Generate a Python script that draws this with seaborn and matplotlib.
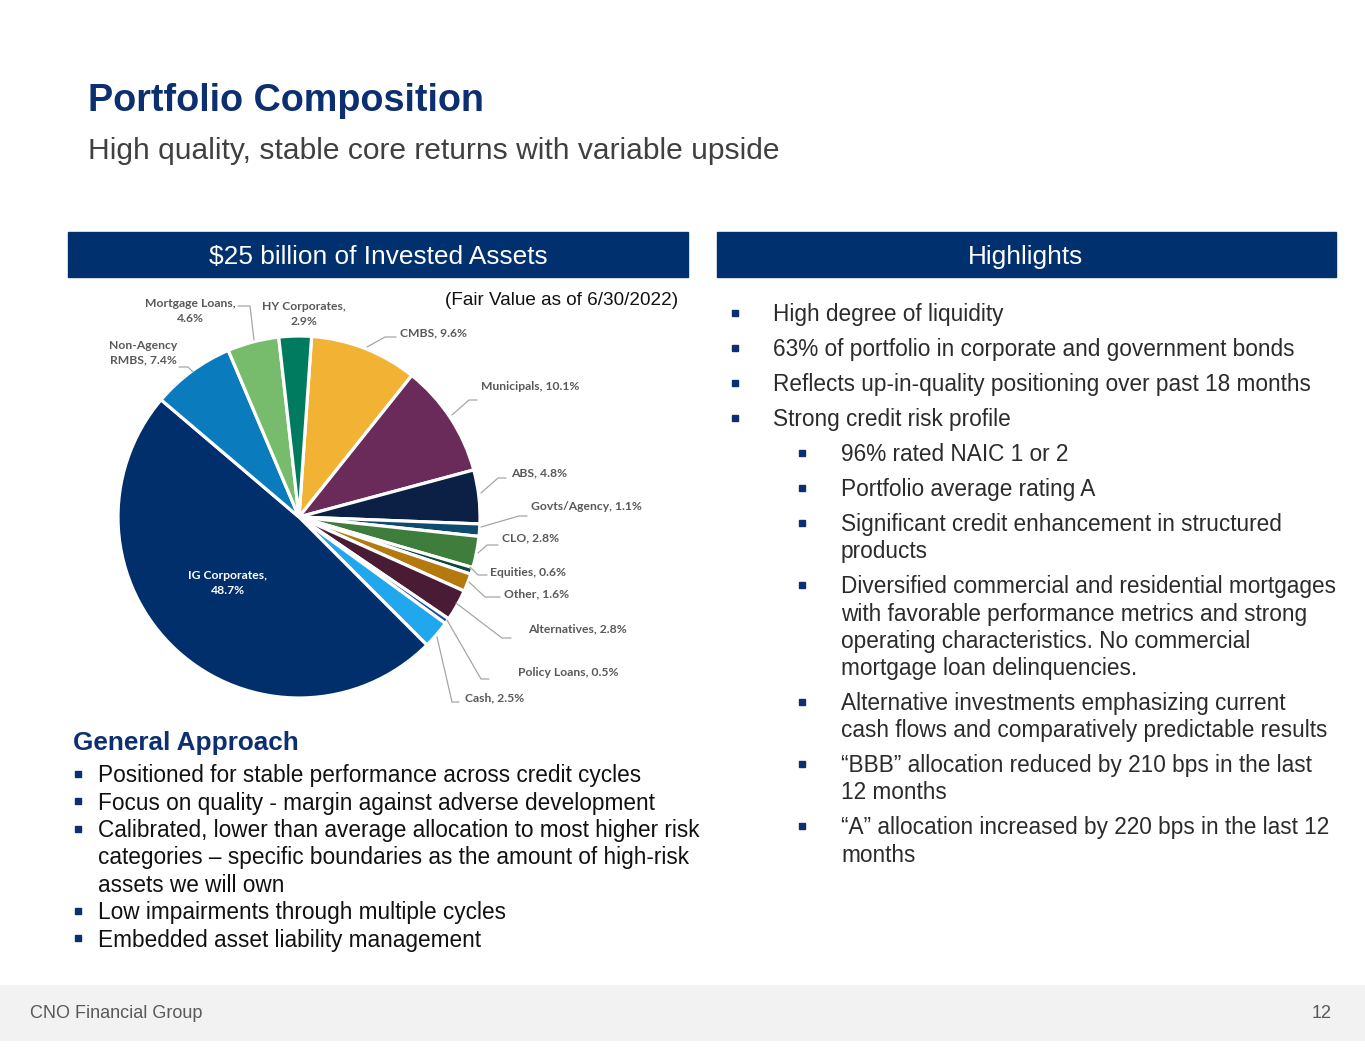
import matplotlib
matplotlib.use("Agg")
import matplotlib.pyplot as plt
from matplotlib.patches import Rectangle
import seaborn as sns

# ---------------- data ----------------
categories = ["CMBS", "Municipals", "ABS", "Govts/Agency", "CLO", "Equities", "Other",
              "Alternatives", "Policy Loans", "Cash", "IG Corporates", "Non-Agency RMBS",
              "Mortgage Loans", "HY Corporates"]
shares = [9.6, 10.1, 4.8, 1.1, 2.8, 0.6, 1.6, 2.8, 0.5, 2.5, 48.7, 7.4, 4.6, 2.9]
slice_colors = ["#F2B233", "#6A2A5A", "#0C1F45", "#0E4B6E", "#3E7D3B", "#0C4A3E", "#B47A10",
                "#4A1B35", "#1F4E9C", "#21A7EE", "#002F6C", "#0A7BBD", "#77BC6C", "#007B5F"]
label_texts = ["CMBS, 9.6%", "Municipals, 10.1%", "ABS, 4.8%", "Govts/Agency, 1.1%",
               "CLO, 2.8%", "Equities, 0.6%", "Other, 1.6%", "Alternatives, 2.8%",
               "Policy Loans, 0.5%", "Cash, 2.5%", "IG Corporates,\n48.7%",
               "Non-Agency\nRMBS, 7.4%", "Mortgage Loans,\n4.6%", "HY Corporates,\n2.9%"]

title = "Portfolio Composition"
subtitle = "High quality, stable core returns with variable upside"
left_header = "$25 billion of Invested Assets"
right_header = "Highlights"
fair_value_note = "(Fair Value as of 6/30/2022)"
highlights = [
    (0, ["High degree of liquidity"]),
    (0, ["63% of portfolio in corporate and government bonds"]),
    (0, ["Reflects up-in-quality positioning over past 18 months"]),
    (0, ["Strong credit risk profile"]),
    (1, ["96% rated NAIC 1 or 2"]),
    (1, ["Portfolio average rating A"]),
    (1, ["Significant credit enhancement in structured", "products"]),
    (1, ["Diversified commercial and residential mortgages",
         "with favorable performance metrics and strong",
         "operating characteristics. No commercial",
         "mortgage loan delinquencies."]),
    (1, ["Alternative investments emphasizing current",
         "cash flows and comparatively predictable results"]),
    (1, ["\u201cBBB\u201d allocation reduced by 210 bps in the last", "12 months"]),
    (1, ["\u201cA\u201d allocation increased by 220 bps in the last 12", "months"]),
]
approach_title = "General Approach"
approach = [
    ["Positioned for stable performance across credit cycles"],
    ["Focus on quality - margin against adverse development"],
    ["Calibrated, lower than average allocation to most higher risk",
     "categories \u2013 specific boundaries as the amount of high-risk",
     "assets we will own"],
    ["Low impairments through multiple cycles"],
    ["Embedded asset liability management"],
]
footer_left = "CNO Financial Group"
footer_right = "12"

# ---------------- style ----------------
sns.set_theme(style="white")
plt.rcParams['font.family'] = ['Liberation Sans', 'DejaVu Sans']
palette = sns.color_palette(slice_colors)

W, H = 1365, 1055
NAVY = "#0B2F70"
BAR = "#00306E"

fig = plt.figure(figsize=(W / 100, H / 100), dpi=100)
ax = fig.add_axes([0, 0, 1, 1])


def Y(y):
    return H - y


def txt(x, yc, s, size, **kw):
    # yc = visual center of capital letters in pixel coords (y downward)
    px = size * 100 / 72
    ax.text(x, Y(yc + 0.36 * px), s, fontsize=size, va='baseline', **kw)


# ---------------- pie ----------------
cx, cy, R = 299, 517, 181
wedges, _ = ax.pie(shares, colors=palette, startangle=86, counterclock=False,
                   center=(cx, Y(cy)), radius=R,
                   wedgeprops=dict(edgecolor='white', linewidth=2.3))
ax.set_xlim(0, W)
ax.set_ylim(0, H)
ax.set_aspect('auto')
ax.axis('off')

# label placement (pixel coords, y downward): label anchor and leader polyline
pie_label_font = dict(family=['Lato', 'DejaVu Sans'], fontweight='bold', color='#595959')
label_pos = {
    "CMBS": (400, 333, 'left'),
    "Municipals": (481, 386, 'left'),
    "ABS": (511, 473, 'left'),
    "Govts/Agency": (531, 507, 'left'),
    "CLO": (502, 538, 'left'),
    "Equities": (490, 572, 'left'),
    "Other": (504, 594, 'left'),
    "Alternatives": (528, 629, 'left'),
    "Policy Loans": (518, 673, 'left'),
    "Cash": (465, 698, 'left'),
    "IG Corporates": (228, 583, 'center'),
    "Non-Agency RMBS": (143, 353, 'center'),
    "Mortgage Loans": (190, 311, 'center'),
    "HY Corporates": (304, 314, 'center'),
}
leaders = {
    "CMBS": [(367, 347), (385, 337), (396, 337)],
    "Municipals": [(452, 415), (469, 400), (477, 400)],
    "ABS": [(481, 493), (498, 478), (506, 478)],
    "Govts/Agency": [(481, 527), (519, 516), (527, 516)],
    "CLO": [(478, 553), (487, 545), (498, 545)],
    "Equities": [(470, 567), (478, 575), (487, 575)],
    "Other": [(469, 582), (485, 597), (500, 597)],
    "Alternatives": [(456, 603), (502, 638), (511, 638)],
    "Policy Loans": [(447, 620), (481, 679), (489, 679)],
    "Cash": [(437, 637), (452, 702), (459, 702)],
    "Non-Agency RMBS": [(193, 372), (188, 367), (179, 367)],
    "Mortgage Loans": [(254, 340), (250, 306), (238, 306)],
}
for cat, lab in zip(categories, label_texts):
    x, y, ha = label_pos[cat]
    col = 'white' if cat == "IG Corporates" else '#595959'
    kw = dict(pie_label_font)
    kw['color'] = col
    ax.text(x, Y(y), lab, fontsize=8.7, ha=ha, va='center', linespacing=1.4, **kw)
    if cat in leaders:
        pts = leaders[cat]
        ax.plot([p[0] for p in pts], [Y(p[1]) for p in pts], color='#A6A6A6', lw=0.9)

# ---------------- header / titles ----------------
txt(88, 97, title, 27.2, fontweight='bold', color=NAVY)
txt(88, 148, subtitle, 21.6, color='#404040')

ax.add_patch(Rectangle((68, Y(277)), 620, 45, color=BAR, zorder=0))
ax.add_patch(Rectangle((717, Y(277)), 619, 45, color=BAR, zorder=0))
txt(378, 255, left_header, 18.9, color='white', ha='center')
txt(1026, 255, right_header, 18.9, color='white', ha='center')
txt(678, 298, fair_value_note, 13.6, color='#111111', ha='right')

# ---------------- highlights ----------------
y = 313
for level, lines in highlights:
    bx = 735 if level == 0 else 802
    tx = 773 if level == 0 else 841
    ax.plot([bx], [Y(y)], marker='s', ms=4.5, color=NAVY, mec=NAVY)
    for i, line in enumerate(lines):
        txt(tx, y + i * 27.2, line, 16.3, color='#2B2B2B')
    y += 27.2 * (len(lines) - 1) + 35

# ---------------- general approach ----------------
txt(73, 741, approach_title, 18.8, fontweight='bold', color=NAVY)
y = 774
for lines in approach:
    ax.plot([78], [Y(y)], marker='s', ms=4.5, color=NAVY, mec=NAVY)
    for i, line in enumerate(lines):
        txt(98, y + i * 27.4, line, 16.3, color='#111111')
    y += 27.4 * len(lines)

# ---------------- footer ----------------
ax.add_patch(Rectangle((0, Y(1040)), W, 55, color='#F2F2F2', zorder=0))
txt(30, 1011, footer_left, 13, color='#595959')
txt(1332, 1011, footer_right, 13, color='#595959', ha='right')

fig.savefig("out.png", dpi=100, facecolor='white')
